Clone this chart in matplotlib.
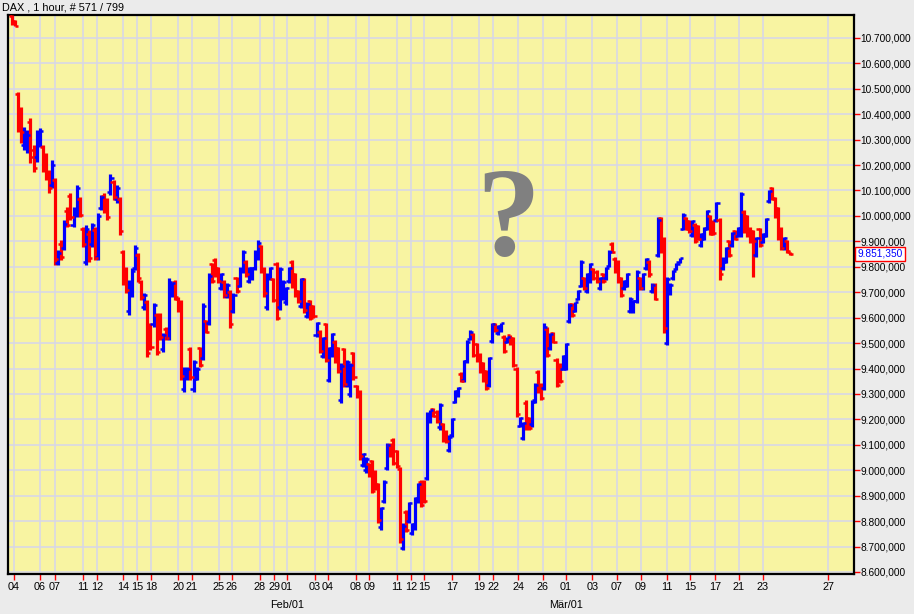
#!/usr/bin/env python3

# DAX hourly OHLC bars, Jan - Mar 2016

import matplotlib
matplotlib.use('Agg')
import matplotlib.pyplot as plt
import matplotlib.transforms as mtransforms
import numpy as np

plt.rcParams['font.family'] = ['Liberation Sans', 'DejaVu Sans']

# OHLC values of the hourly bars (index points)
opens = [
    10785, 10765, 10480, 10400, 10280, 10270, 10370, 10260, 10230, 10290,
    10270, 10230, 10170, 10120, 10140, 9815, 9890, 9875, 10020, 10080,
    9965, 10005, 10065, 9950, 9820, 9930, 9890, 9945, 9840, 10030,
    10080, 10060, 10095, 10135, 10065, 10065, 9860, 9790, 9625, 9695,
    9795, 9845, 9740, 9640, 9660, 9570, 9575, 9610, 9605, 9475,
    9555, 9520, 9690, 9740, 9675, 9660, 9320, 9365, 9475, 9320,
    9360, 9480, 9440, 9585, 9580, 9810, 9825, 9795, 9715, 9740,
    9685, 9700, 9625, 9755, 9725, 9785, 9820, 9745, 9755, 9795,
    9835, 9880, 9790, 9640, 9755, 9750, 9810, 9640, 9680, 9660,
    9745, 9820, 9770, 9705, 9645, 9750, 9605, 9665, 9645, 9530,
    9545, 9450, 9575, 9355, 9455, 9505, 9480, 9275, 9475, 9335,
    9300, 9460, 9330, 9300, 9020, 9000, 9025, 9035, 8995, 8945,
    8775, 8880, 9010, 9100, 9120, 9075, 9005, 8695, 8835, 8800,
    8755, 8775, 8880, 8955, 8955, 8970, 9195, 9240, 9230, 9170,
    9180, 9150, 9080, 9140, 9270, 9295, 9380, 9355, 9430, 9515,
    9535, 9495, 9455, 9420, 9390, 9335, 9510, 9575, 9540, 9550,
    9525, 9505, 9530, 9520, 9400, 9175, 9125, 9265, 9205, 9180,
    9275, 9385, 9335, 9325, 9555, 9480, 9540, 9435, 9415, 9400,
    9400, 9585, 9655, 9628, 9675, 9725, 9755, 9705, 9745, 9790,
    9780, 9715, 9770, 9755, 9805, 9890, 9830, 9820, 9755, 9715,
    9725, 9625, 9625, 9665, 9755, 9715, 9795, 9820, 9705, 9730,
    9845, 9990, 9910, 9500, 9695, 9755, 9790, 9818, 9950, 9990,
    9980, 9925, 9965, 9960, 9885, 9910, 9950, 9998, 9978, 9985,
    9985, 9795, 9820, 9900, 9885, 9940, 9922, 9925, 10015, 9998,
    9950, 9940, 9845, 9948, 9898, 9922, 10058, 10110, 10070, 10030,
    9950, 9872, 9900, 9857,
]
highs = [
    10790, 10770, 10488, 10429, 10350, 10339, 10386, 10280, 10339, 10346,
    10280, 10248, 10181, 10220, 10150, 9867, 9906, 9985, 10036, 10091,
    10036, 10122, 10075, 9957, 9965, 9945, 9973, 9957, 10013, 10083,
    10091, 10071, 10165, 10142, 10122, 10075, 9867, 9800, 9749, 9796,
    9887, 9855, 9749, 9698, 9670, 9580, 9659, 9619, 9619, 9541,
    9564, 9757, 9741, 9749, 9682, 9670, 9407, 9407, 9486, 9435,
    9407, 9486, 9659, 9592, 9777, 9816, 9835, 9800, 9777, 9749,
    9737, 9710, 9698, 9761, 9800, 9867, 9828, 9800, 9800, 9867,
    9906, 9887, 9800, 9777, 9800, 9757, 9820, 9800, 9749, 9721,
    9800, 9828, 9776, 9710, 9757, 9757, 9662, 9670, 9651, 9584,
    9552, 9525, 9580, 9486, 9541, 9513, 9486, 9423, 9482, 9435,
    9423, 9466, 9336, 9317, 9069, 9053, 9030, 9042, 9002, 8951,
    8857, 8963, 9108, 9108, 9128, 9081, 9014, 8794, 8845, 8876,
    8794, 8896, 8951, 8963, 8963, 9230, 9238, 9246, 9238, 9266,
    9187, 9159, 9140, 9207, 9317, 9328, 9387, 9435, 9513, 9552,
    9541, 9501, 9462, 9427, 9395, 9446, 9580, 9580, 9572, 9580,
    9533, 9525, 9533, 9525, 9407, 9211, 9191, 9277, 9211, 9277,
    9344, 9395, 9344, 9580, 9564, 9541, 9545, 9442, 9423, 9454,
    9501, 9659, 9659, 9662, 9710, 9828, 9761, 9776, 9816, 9796,
    9788, 9761, 9776, 9800, 9867, 9898, 9839, 9828, 9761, 9749,
    9776, 9682, 9670, 9788, 9761, 9776, 9836, 9828, 9737, 9737,
    9997, 9997, 9918, 9761, 9737, 9788, 9816, 9836, 10012, 9997,
    9985, 9985, 9973, 9965, 9934, 9957, 10024, 10004, 9985, 10055,
    9993, 9839, 9879, 9906, 9937, 9945, 9957, 10095, 10024, 10004,
    9957, 9945, 9918, 9953, 9934, 9993, 10103, 10115, 10075, 10036,
    9957, 9918, 9906, 9859,
]
lows = [
    10751, 10745, 10331, 10287, 10260, 10248, 10209, 10173, 10213, 10272,
    10173, 10142, 10091, 10110, 9808, 9808, 9828, 9867, 9957, 9985,
    9957, 9997, 9997, 9878, 9808, 9820, 9878, 9828, 9828, 10024,
    10012, 9985, 10083, 10063, 10052, 9926, 9729, 9698, 9611, 9682,
    9788, 9741, 9670, 9631, 9446, 9474, 9564, 9454, 9513, 9466,
    9513, 9513, 9682, 9670, 9623, 9356, 9309, 9356, 9356, 9309,
    9356, 9407, 9435, 9541, 9572, 9737, 9761, 9737, 9710, 9678,
    9678, 9560, 9619, 9698, 9721, 9776, 9761, 9737, 9749, 9788,
    9828, 9776, 9682, 9631, 9749, 9662, 9592, 9631, 9670, 9651,
    9737, 9718, 9682, 9659, 9639, 9619, 9600, 9592, 9600, 9525,
    9462, 9443, 9427, 9348, 9446, 9423, 9384, 9266, 9328, 9328,
    9289, 9356, 9285, 9042, 9014, 8990, 8975, 8912, 8924, 8794,
    8766, 8873, 9002, 9053, 9022, 9010, 8715, 8688, 8759, 8794,
    8747, 8766, 8873, 8857, 8873, 8963, 9187, 9211, 9187, 9159,
    9112, 9108, 9073, 9132, 9266, 9289, 9348, 9348, 9423, 9513,
    9446, 9427, 9384, 9348, 9317, 9328, 9501, 9545, 9533, 9545,
    9462, 9501, 9494, 9407, 9210, 9171, 9120, 9159, 9159, 9171,
    9266, 9305, 9277, 9317, 9446, 9474, 9501, 9328, 9344, 9395,
    9395, 9580, 9604, 9623, 9670, 9721, 9710, 9698, 9737, 9749,
    9737, 9710, 9737, 9749, 9800, 9855, 9776, 9737, 9682, 9710,
    9721, 9619, 9619, 9659, 9710, 9710, 9788, 9761, 9698, 9670,
    9839, 9855, 9541, 9493, 9690, 9749, 9788, 9816, 9945, 9945,
    9934, 9918, 9894, 9906, 9879, 9906, 9945, 9926, 9926, 9977,
    9749, 9788, 9816, 9839, 9879, 9906, 9918, 9918, 9934, 9918,
    9894, 9761, 9839, 9879, 9894, 9918, 10052, 10063, 9993, 9906,
    9867, 9867, 9855, 9847,
]
closes = [
    10760, 10748, 10360, 10330, 10330, 10320, 10230, 10190, 10320, 10335,
    10190, 10160, 10110, 10200, 9830, 9855, 9840, 9970, 9965, 9995,
    10025, 10110, 10005, 9890, 9950, 9835, 9965, 9835, 10000, 10075,
    10020, 9995, 10150, 10075, 10110, 9940, 9745, 9710, 9735, 9785,
    9875, 9755, 9680, 9690, 9460, 9485, 9650, 9465, 9525, 9530,
    9520, 9740, 9735, 9680, 9630, 9370, 9395, 9400, 9365, 9425,
    9400, 9415, 9645, 9545, 9765, 9745, 9770, 9745, 9770, 9690,
    9730, 9575, 9690, 9705, 9790, 9860, 9770, 9795, 9795, 9860,
    9895, 9785, 9695, 9765, 9795, 9670, 9600, 9790, 9740, 9715,
    9795, 9730, 9690, 9665, 9750, 9630, 9655, 9600, 9605, 9580,
    9470, 9520, 9435, 9480, 9535, 9430, 9390, 9410, 9340, 9425,
    9415, 9365, 9290, 9055, 9065, 9045, 8980, 8920, 8930, 8805,
    8850, 8955, 9100, 9060, 9030, 9015, 8730, 8780, 8765, 8870,
    8790, 8890, 8945, 8865, 8880, 9220, 9235, 9215, 9195, 9255,
    9120, 9115, 9130, 9200, 9310, 9325, 9350, 9430, 9505, 9545,
    9455, 9435, 9390, 9355, 9325, 9440, 9575, 9550, 9568, 9578,
    9470, 9522, 9500, 9415, 9220, 9205, 9185, 9170, 9165, 9270,
    9335, 9315, 9285, 9565, 9455, 9535, 9505, 9335, 9350, 9450,
    9495, 9650, 9610, 9660, 9705, 9820, 9715, 9770, 9810, 9755,
    9745, 9755, 9745, 9795, 9860, 9860, 9785, 9745, 9690, 9745,
    9770, 9675, 9665, 9780, 9715, 9770, 9830, 9770, 9730, 9675,
    9985, 9870, 9560, 9750, 9730, 9783, 9812, 9834, 10005, 9950,
    9940, 9980, 9900, 9910, 9928, 9952, 10018, 9930, 9932, 10050,
    9770, 9832, 9875, 9845, 9932, 9910, 9952, 10085, 9940, 9925,
    9900, 9900, 9912, 9885, 9930, 9988, 10098, 10068, 10000, 9915,
    9875, 9912, 9862, 9851,
]

# date ticks (bar position of first bar of the day) and labels
tick_pos = [0.65, 9.1, 14.0, 23.1, 27.6, 36.1, 40.6, 45.2, 54.0, 58.5, 67.3, 71.5, 80.6, 85.2,
            89.4, 98.5, 102.7, 111.8, 116.1, 125.2, 129.7, 133.9, 143.0, 151.8, 156.4, 164.5, 172.6,
            180.1, 188.6, 196.7, 204.5, 213.0, 220.4, 228.5, 236.3, 244.1, 265.3]
tick_labels = ['04', '06', '07', '11', '12', '14', '15', '18', '20', '21', '25', '26', '28', '29',
               '01', '03', '04', '08', '09', '11', '12', '15', '17', '19', '22', '24', '26',
               '01', '03', '07', '09', '11', '15', '17', '21', '23', '27']
month_pos = [89.4, 180.1]
month_labels = ['Feb/01', 'Mär/01']
last_price = 9851.35


def de_fmt(v):
    s = f'{v:,.3f}'
    return s.replace(',', 'X').replace('.', ',').replace('X', '.')


o = np.array(opens)
h = np.array(highs)
l = np.array(lows)
c = np.array(closes)
x = np.arange(len(o))
cols = np.where(c >= o, '#0000ff', '#ff0000')

fig = plt.figure(figsize=(9.14, 6.14), dpi=100, facecolor='#ebebeb')
ax = fig.add_axes([8 / 914, 1 - 574 / 614, 846 / 914, 559 / 614])
ax.set_facecolor('#f8f4a2')

ax.vlines(x, l, h, colors=cols, lw=2.3, zorder=3)
ax.hlines(o, x - 1.0, x, colors=cols, lw=1.8, zorder=3)
ax.hlines(c, x, x + 1.0, colors=cols, lw=1.8, zorder=3)

ax.set_xlim(-1.3, 273.7)
ax.set_ylim(8592, 10790)

yt = np.arange(8600, 10701, 100)
ax.set_yticks(yt)
ax.set_yticklabels([de_fmt(v) for v in yt])
ax.yaxis.tick_right()
ax.set_xticks(tick_pos)
ax.set_xticklabels(tick_labels)

ax.tick_params(axis='both', colors='red', labelcolor='black', labelsize=7.8,
               length=4, width=1, direction='out')
ax.tick_params(axis='y', pad=0.5, labelsize=7.3)
ax.tick_params(axis='x', pad=2)

ax.grid(True, color='#d8d8e6', lw=1.2)
ax.set_axisbelow(True)
for s in ax.spines.values():
    s.set_color('black')
    s.set_linewidth(1.6)

for p, t in zip(month_pos, month_labels):
    ax.text(p, -0.055, t, transform=mtransforms.blended_transform_factory(ax.transData, ax.transAxes),
            ha='center', va='center', fontsize=7.8)

# current price box on the right
ax.text(1.004, last_price, de_fmt(last_price),
        transform=mtransforms.blended_transform_factory(ax.transAxes, ax.transData),
        ha='left', va='center', color='blue', fontsize=7.3,
        bbox=dict(boxstyle='square,pad=0.2', fc='white', ec='red', lw=1))

# big question mark
ax.text(0.591, 0.625, '?', transform=ax.transAxes, ha='center', va='center',
        fontsize=92, family='Liberation Serif', fontweight='bold', color='#808080', zorder=2)

fig.text(2 / 914, 1 - 7 / 614, 'DAX , 1 hour, # 571 / 799', ha='left', va='center', fontsize=7.8)

plt.savefig('out.png', dpi=100, facecolor=fig.get_facecolor())
